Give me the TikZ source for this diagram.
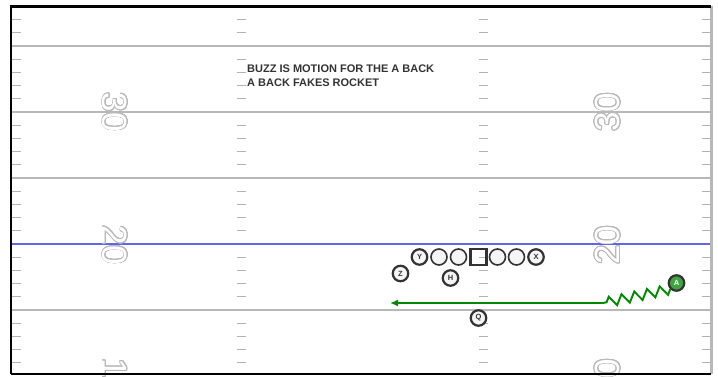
\documentclass[tikz,border=0pt]{standalone}
\usepackage{fontspec}
\setmainfont{Liberation Sans}
\usepackage{contour}
\usetikzlibrary{arrows.meta,decorations.pathmorphing}
\contourlength{0.8pt}
\contournumber{24}
\definecolor{ydline}{HTML}{B8B8B8}
\definecolor{losblue}{HTML}{6464E8}
\definecolor{routegreen}{HTML}{008A00}
\definecolor{ballgreen}{HTML}{3FA43F}
\tikzset{
  yardln/.style={line width=2.8pt, draw=ydline},
  hashln/.style={line width=1pt, draw=gray!60},
  border/.style={line width=2.5pt, draw=black},
  losln/.style={line width=1.8pt, draw=losblue},
  yardnum/.style={inner sep=0pt, text=white, font=\fontsize{35}{35}\selectfont},
  plyr/.style={circle, draw=black!80, line width=2.2pt, fill=gray!8, minimum size=15.5pt, inner sep=0pt, text=black!80, font=\bfseries\fontsize{7.5}{7.5}\selectfont},
  lman/.style={circle, draw=black!80, line width=1.6pt, fill=gray!8, minimum size=16pt, inner sep=0pt},
  cntr/.style={rectangle, draw=black!80, line width=2.2pt, minimum size=16pt, inner sep=0pt},
  carrier/.style={plyr, fill=ballgreen, text=white},
  route/.style={line width=1.9pt, draw=routegreen},
  note/.style={inner sep=0pt, align=left, text=black!80, font=\bfseries\fontsize{11}{14}\selectfont}
}
\begin{document}
\begin{tikzpicture}[x=1pt,y=-1pt]
\useasboundingbox (0,0) rectangle (718,376);
% yard lines
\foreach \yy in {46,112,178,310} {
  \draw[yardln] (11,\yy) -- (711,\yy);
}
\draw[losln] (11,244) -- (711,244);
% hash marks
\foreach \j in {-3,...,24} {
  \pgfmathtruncatemacro\r{mod(\j+15,5)}
  \ifnum\r>0
    \foreach \hx in {12,237,479,702} {
      \draw[hashln] (\hx,{46+13.2*\j}) -- ++(8.5,0);
    }
  \fi
}
% yard numbers
\node[yardnum, rotate=-90] (n30l) at (114.5,112) {\contour{gray!55}{30}};
\node[yardnum, rotate=-90] (n20l) at (114.5,245) {\contour{gray!55}{20}};
\node[yardnum, rotate=-90] (n10l) at (114.5,378) {\contour{gray!55}{10}};
\node[yardnum, rotate=90] (n30r) at (608,112) {\contour{gray!55}{30}};
\node[yardnum, rotate=90] (n20r) at (608,245) {\contour{gray!55}{20}};
\node[yardnum, rotate=90] (n10r) at (608,378) {\contour{gray!55}{10}};
% frame
\draw[line width=3pt, draw=ydline] (711.5,6) -- (711.5,374);
\draw[border] (11,374) -- (11,6.5) -- (711,6.5);
\draw[border] (11,374) -- (711,374);
% call
\node[note, anchor=west] (call) at (247,76) {BUZZ IS MOTION FOR THE A BACK\\A BACK FAKES ROCKET};
% formation
\node[plyr] (Y) at (419.5,257) {Y};
\node[lman] (lg1) at (439,257) {};
\node[lman] (lg2) at (458.5,257) {};
\node[cntr] (C) at (478.5,257) {};
\node[lman] (rg1) at (497.5,257) {};
\node[lman] (rg2) at (516.5,257) {};
\node[plyr] (X) at (536,257) {X};
\node[plyr] (Z) at (400.5,273.5) {Z};
\node[plyr] (H) at (450.5,278) {H};
\node[plyr] (Q) at (478.5,318) {Q};
\node[carrier] (A) at (676.5,283) {A};
% route
\coordinate (zz) at (603,303);
\coordinate (tip) at (390,303);
\draw[route, -{Latex[length=8pt,width=7pt]}] (A.south west)
  decorate[decoration={zigzag,segment length=13pt,amplitude=5pt}] {-- (zz)} -- (tip);
\end{tikzpicture}
\end{document}
